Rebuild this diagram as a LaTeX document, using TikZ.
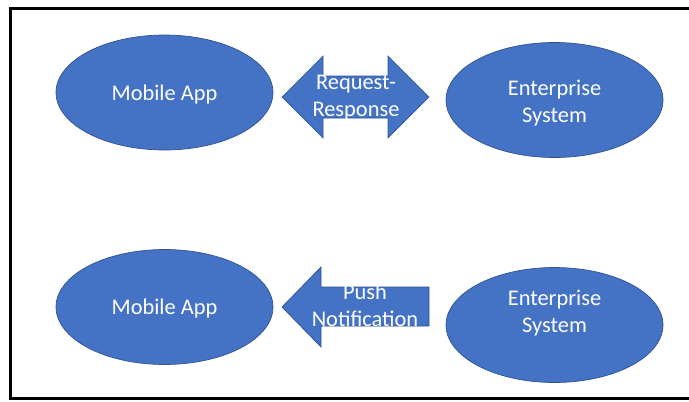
\documentclass[tikz,border=0pt]{standalone}
\usepackage{fontspec}
\setmainfont{Carlito}
\usetikzlibrary{shapes.geometric}
\definecolor{boxblue}{HTML}{4472C4}
\definecolor{boxedge}{HTML}{2F528F}
\begin{document}
\begin{tikzpicture}[
    x=0.75pt, y=-0.75pt,
    sysnode/.style={ellipse, fill=boxblue, draw=boxedge, line width=0.5pt,
        minimum width=162.75pt, minimum height=86.25pt, inner sep=0pt},
    systext/.style={anchor=base, text=white, align=center, inner sep=0pt,
        font=\fontsize{16.8}{20.25}\selectfont},
    blockarrow/.style={fill=boxblue, draw=boxedge, line width=0.5pt, line join=miter},
    frame/.style={line width=1.9pt}
]
    \useasboundingbox (0,0) rectangle (689,401);

    % Moldura (lado direito cortado)
    \draw[frame] (689,8.5) -- (10.5,8.5) -- (10.5,398.5) -- (689,398.5);

    % Par 1: request-response
    \node[sysnode] (mob1) at (164.5,92.5) {};
    \node[systext] (mob1txt) at (164.5,100) {Mobile App};
    \node[sysnode] (ent1) at (554.5,100) {};
    \node[systext] (ent1txt) at (554.5,122) {Enterprise\\System};

    \coordinate (rrtip) at (282,97);
    \draw[blockarrow] (rrtip) -- ++(41,-41) -- ++(0,20) -- ++(65,0) -- ++(0,-20)
        -- ++(41,41) -- ++(-41,41) -- ++(0,-20) -- ++(-65,0) -- ++(0,20) -- cycle;
    \node[systext] (rrtxt) at (356,116) {Request-\\Response};

    % Par 2: push notification
    \node[sysnode] (mob2) at (164.5,307) {};
    \node[systext] (mob2txt) at (164.5,314) {Mobile App};
    \node[sysnode] (ent2) at (554.5,325) {};
    \node[systext] (ent2txt) at (554.5,332) {Enterprise\\System};

    \coordinate (pntip) at (282,307);
    \draw[blockarrow] (pntip) -- ++(39,-40) -- ++(0,20) -- ++(108,0) -- ++(0,39)
        -- ++(-108,0) -- ++(0,21) -- cycle;
    \node[systext] (pntxt) at (365,326) {Push\\Notification};

\end{tikzpicture}
\end{document}
